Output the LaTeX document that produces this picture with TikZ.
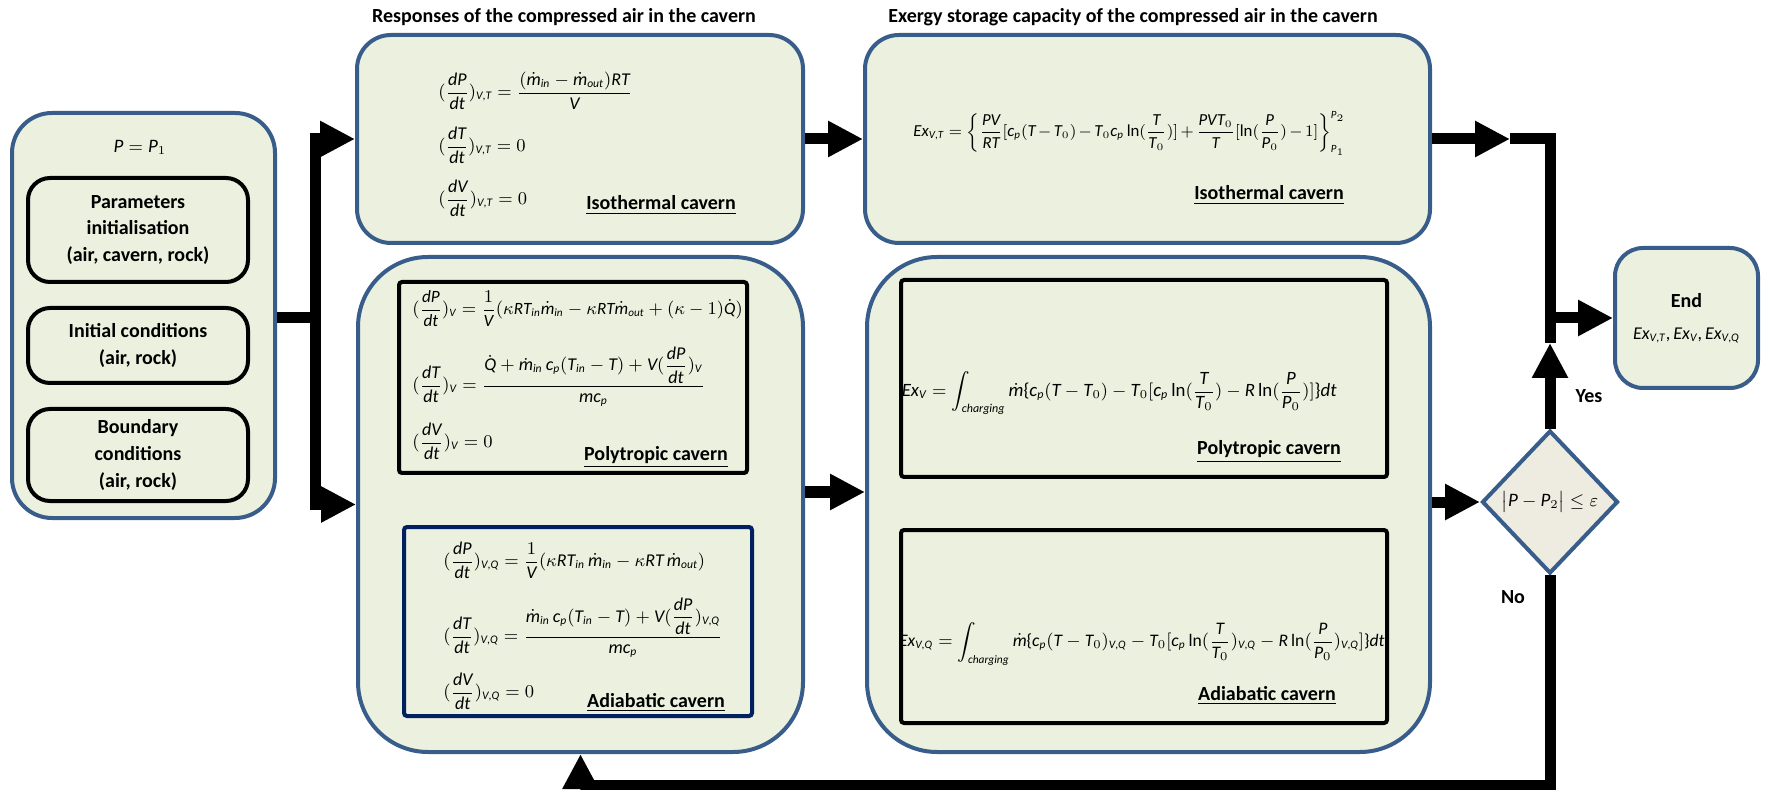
\documentclass[tikz,border=0pt]{standalone}
\usepackage{amsmath}
\usepackage{fontspec}
\setmainfont{Carlito}
\usepackage[italic,noplusnominus]{mathastext}
\DeclareMathSizes{8.4}{8.4}{5.5}{4.6}
\DeclareMathSizes{8.6}{8.6}{5.6}{4.8}
\DeclareMathSizes{8.8}{8.8}{5.7}{4.9}
\DeclareMathSizes{9}{9}{5.8}{5}
\DeclareMathSizes{9.4}{9.4}{6}{5}
\DeclareMathSizes{9.5}{9.5}{6}{5}
\usepackage{tikz}
\usetikzlibrary{positioning}
\usetikzlibrary{shapes.geometric}
\usetikzlibrary{arrows.meta}

\definecolor{boxline}{HTML}{385D8A}
\definecolor{boxfill}{HTML}{EBF1DE}
\definecolor{diafill}{HTML}{EEECE1}
\definecolor{navy}{HTML}{002060}

\begin{document}
\begin{tikzpicture}[x=0.5pt, y=-0.5pt,
    every node/.style={inner sep=0pt},
    bluebox/.style={draw=boxline, line width=2pt, fill=boxfill, rectangle},
    blackbox/.style={draw=black, line width=2pt, rounded corners=11pt, align=center, font=\bfseries\fontsize{10}{13.3}\selectfont},
    eqframe/.style={line width=2pt, rounded corners=1.5pt},
    eqn/.style={anchor=base west, font=\fontsize{9}{11}\selectfont},
    lbl/.style={anchor=base, font=\bfseries\fontsize{10}{12}\selectfont},
    conn/.style={line width=5.5pt},
    flow/.style={line width=5.5pt, -{Triangle[length=17.5pt,width=17pt]}}]
    \useasboundingbox (0,0) rectangle (1765,790);

    % Cajas
    \node[bluebox, rounded corners=20pt, minimum width=131.5pt, minimum height=202.5pt] (ini) at (143.5,315.5) {};
    \node[blackbox, minimum width=110pt, minimum height=52pt] (par) at (138,230) {Parameters\\initialisation\\(air, cavern, rock)};
    \node[blackbox, minimum width=110pt, minimum height=37.5pt] (cond) at (138,345.5) {Initial conditions\\(air, rock)};
    \node[blackbox, minimum width=110pt, minimum height=46pt] (bnd) at (138,455) {Boundary\\conditions\\(air, rock)};
    \node[eqn, anchor=center, font=\fontsize{9.5}{11}\selectfont] (pone) at (140,147) {$P=P_1$};

    \node[bluebox, rounded corners=17pt, minimum width=223pt, minimum height=104pt] (isor) at (580,139) {};
    \node[bluebox, rounded corners=35pt, minimum width=222.5pt, minimum height=247.5pt] (lowr) at (580.5,504.5) {};
    \node[eqframe, draw=black, minimum width=174pt, minimum height=95.5pt] (polyr) at (573,377.5) {};
    \node[eqframe, draw=navy, minimum width=174pt, minimum height=94.5pt] (adiar) at (578,621.5) {};

    \node[bluebox, rounded corners=17pt, minimum width=282.5pt, minimum height=104pt] (isoe) at (1147.5,139) {};
    \node[bluebox, rounded corners=35pt, minimum width=281.5pt, minimum height=247.5pt] (lowe) at (1148.5,504.5) {};
    \node[eqframe, draw=black, minimum width=243pt, minimum height=98.5pt] (polye) at (1144,378.5) {};
    \node[eqframe, draw=black, minimum width=243pt, minimum height=96.5pt] (adiae) at (1144,626.5) {};

    \node[bluebox, rounded corners=14pt, minimum width=71.5pt, minimum height=70pt, align=center] (fin) at (1686.5,318)
        {\bfseries\fontsize{10}{13.3}\selectfont End\\[4pt]\fontsize{9}{11}\selectfont$Ex_{V,T},Ex_V,Ex_{V,Q}$};
    \node[diamond, draw=boxline, line width=2pt, fill=diafill, minimum width=68pt, minimum height=71.5pt] (check) at (1550,502)
        {\fontsize{9.5}{11}\selectfont$\bigl|P-P_2\bigr|\le\varepsilon$};

    % Titulos
    \node[lbl] (tresp) at (564,23) {Responses of the compressed air in the cavern};
    \node[lbl] (texg) at (1133,23) {Exergy storage capacity of the compressed air in the cavern};

    % Ecuaciones
    \node[eqn] (ir1) at (438,97.5) {$\displaystyle(\frac{dP}{dt})_{V,T}=\frac{(\dot{m}_{in}-\dot{m}_{out})RT}{V}$};
    \node[eqn] (ir2) at (438,151.5) {$\displaystyle(\frac{dT}{dt})_{V,T}=0$};
    \node[eqn] (ir3) at (438,204.5) {$\displaystyle(\frac{dV}{dt})_{V,T}=0$};
    \node[lbl] (irl) at (661,210) {\underline{Isothermal cavern}};

    \node[eqn, font=\fontsize{8.6}{10}\selectfont] (pr1) at (412,314.5) {$\displaystyle(\frac{dP}{dt})_V=\frac{1}{V}(\kappa RT_{in}\dot{m}_{in}-\kappa RT\dot{m}_{out}+(\kappa-1)\dot{Q})$};
    \node[eqn] (pr2) at (412,390.5) {$\displaystyle(\frac{dT}{dt})_V=\frac{\dot{Q}+\dot{m}_{in}\,c_p(T_{in}-T)+V(\dfrac{dP}{dt})_V}{mc_p}$};
    \node[eqn] (pr3) at (412,447.5) {$\displaystyle(\frac{dV}{dt})_V=0$};
    \node[lbl] (prl) at (656,460) {\underline{Polytropic cavern}};

    \node[eqn] (ar1) at (443,566.5) {$\displaystyle(\frac{dP}{dt})_{V,Q}=\frac{1}{V}(\kappa RT_{in}\,\dot{m}_{in}-\kappa RT\,\dot{m}_{out})$};
    \node[eqn] (ar2) at (443,641.5) {$\displaystyle(\frac{dT}{dt})_{V,Q}=\frac{\dot{m}_{in}\,c_p(T_{in}-T)+V(\dfrac{dP}{dt})_{V,Q}}{mc_p}$};
    \node[eqn] (ar3) at (443,697.5) {$\displaystyle(\frac{dV}{dt})_{V,Q}=0$};
    \node[lbl] (arl) at (656,707) {\underline{Adiabatic cavern}};

    \node[eqn, font=\fontsize{8.4}{10}\selectfont] (ie) at (913,136.5) {\medmuskip=2.5mu$\displaystyle Ex_{V,T}=\left\{\frac{PV}{RT}[c_p(T-T_0)-T_0c_p\ln(\frac{T}{T_0})]+\frac{PVT_0}{T}[\ln(\frac{P}{P_0})-1]\right\}_{P_1}^{P_2}$};
    \node[lbl] (iel) at (1269,200) {\underline{Isothermal cavern}};
    \node[eqn, anchor=base east, font=\fontsize{9.4}{11}\selectfont] (pe) at (1337,396.5) {$\displaystyle Ex_V=\int_{charging}\dot{m}\{c_p(T-T_0)-T_0[c_p\ln(\frac{T}{T_0})-R\ln(\frac{P}{P_0})]\}dt$};
    \node[lbl] (pel) at (1269,455) {\underline{Polytropic cavern}};
    \node[eqn, anchor=base east, font=\fontsize{8.8}{10.5}\selectfont] (ae) at (1385,646.5) {$\displaystyle Ex_{V,Q}=\int_{charging}\dot{m}\{c_p(T-T_0)_{V,Q}-T_0[c_p\ln(\frac{T}{T_0})_{V,Q}-R\ln(\frac{P}{P_0})_{V,Q}]\}dt$};
    \node[lbl] (ael) at (1267,700) {\underline{Adiabatic cavern}};

    \node[lbl, anchor=center] (yes) at (1589,396) {Yes};
    \node[lbl, anchor=center] (no) at (1513,597) {No};

    % Flechas
    \coordinate (split) at (315,318);
    \coordinate (tipa) at (1510,139);
    \coordinate (tr) at (1550,139);
    \coordinate (jn) at (1550,318);
    \coordinate (tipb) at (1550,343);
    \coordinate (bl) at (1550,785);

    \draw[conn] (ini.east |- split) -- (split);
    \draw[flow] (split) |- (isor.west);
    \draw[flow] (split) |- (lowr.west);
    \draw[flow] (isor) -- (isoe);
    \draw[flow] (lowr.east |- 0,492) -- (lowe.west |- 0,492);
    \draw[flow] (isoe) -- (tipa);
    \draw[conn] (tipa) -- (tr) -- (jn);
    \draw[flow] (check) -- (tipb);
    \draw[conn] (tipb) -- (jn);
    \draw[flow] (jn) -- (fin);
    \draw[flow] (lowe.east |- check) -- (check);
    \draw[flow] (check) -- (bl) -| (lowr.south);
\end{tikzpicture}
\end{document}
